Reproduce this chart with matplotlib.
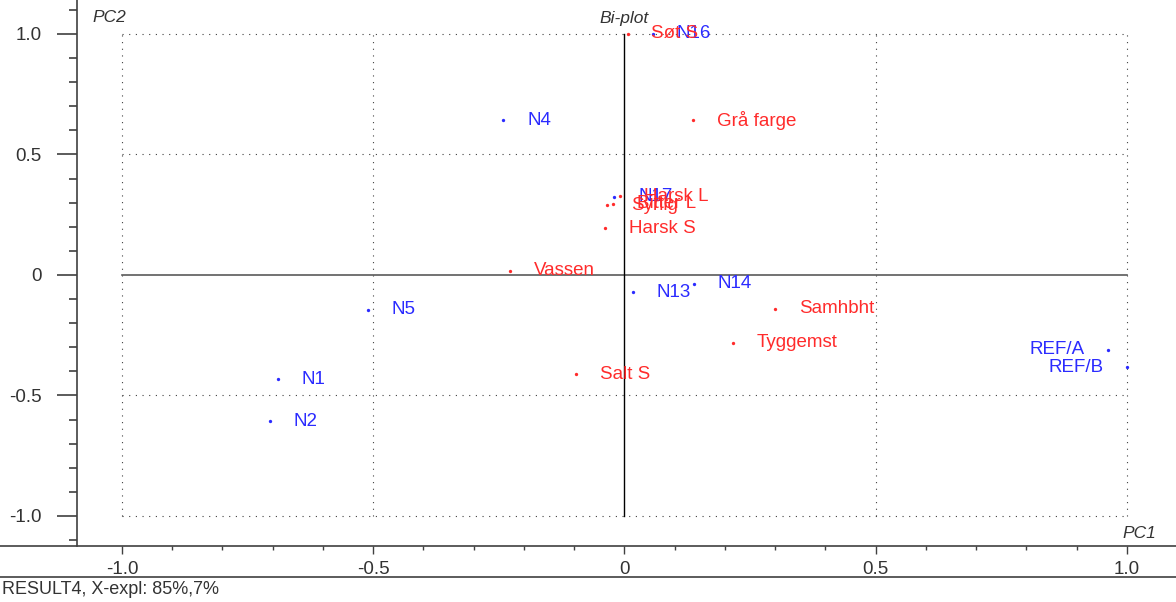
import matplotlib
matplotlib.use("Agg")
import matplotlib.pyplot as plt
from matplotlib.lines import Line2D
from matplotlib.ticker import MultipleLocator

plt.rcParams['font.family'] = ['Liberation Sans', 'DejaVu Sans']

# Sample scores (blue)
samples = ['N16', 'N4', 'N17', 'N13', 'N14', 'N5', 'N1', 'N2', 'REF/A', 'REF/B']
sample_pc1 = [0.056, -0.241, -0.020, 0.016, 0.139, -0.511, -0.689, -0.706, 0.963, 1.000]
sample_pc2 = [1.000, 0.643, 0.324, -0.071, -0.037, -0.145, -0.432, -0.606, -0.311, -0.382]

# Variable loadings (red)
variables = ['Søt S', 'Grå farge', 'Harsk L', 'Bitter L', 'Syrlig', 'Harsk S',
             'Vassen', 'Samhbht', 'Tyggemst', 'Salt S']
var_pc1 = [0.006, 0.137, -0.008, -0.023, -0.034, -0.038, -0.227, 0.300, 0.215, -0.096]
var_pc2 = [1.000, 0.643, 0.326, 0.295, 0.290, 0.195, 0.017, -0.141, -0.282, -0.411]

x_ticks = [-1.0, -0.5, 0, 0.5, 1.0]
y_ticks = [-1.0, -0.5, 0, 0.5, 1.0]
x_ticklabels = ['-1.0', '-0.5', '0', '0.5', '1.0']
y_ticklabels = ['-1.0', '-0.5', '0', '0.5', '1.0']

BLUE = '#2b2bff'
RED = '#ff2b2b'
AXC = '#404040'

W, H = 1176, 602
fig = plt.figure(figsize=(W / 100, H / 100), dpi=100)
ax = fig.add_axes([77 / W, 1 - 546 / H, 1 - 77 / W, 546 / H])

# pixel -> data mapping (x: -1 at 122px, 1 at 1127px; y: 1 at 34px, -1 at 516px)
ax.set_xlim((77 - 624.5) / 502.5, (1176 - 624.5) / 502.5)
ax.set_ylim((275 - 546) / 241, (275 - 0) / 241)

for s in ['top', 'right', 'bottom']:
    ax.spines[s].set_visible(False)
ax.spines['left'].set_color(AXC)
ax.spines['left'].set_linewidth(1.2)

ax.set_xticks(x_ticks)
ax.set_xticklabels(x_ticklabels)
ax.set_yticks(y_ticks)
ax.set_yticklabels(y_ticklabels)
ax.xaxis.set_minor_locator(MultipleLocator(0.1))
ax.yaxis.set_minor_locator(MultipleLocator(0.1))
ax.tick_params(axis='x', which='major', length=6, width=1, color=AXC, pad=5,
               labelsize=13.5, labelcolor='#333333')
ax.tick_params(axis='x', which='minor', length=3, width=1, color=AXC)
ax.tick_params(axis='y', which='major', length=14.5, width=1.2, color=AXC, pad=11,
               labelsize=13.5, labelcolor='#333333')
ax.tick_params(axis='y', which='minor', length=6, width=1.2, color=AXC)

# dotted grid box
dot = dict(color=AXC, lw=0.8, linestyle=(0, (1, 5)), zorder=1)
for v in [-1.0, -0.5, 0.5, 1.0]:
    ax.plot([v, v], [-1, 1], **dot)
    ax.plot([-1, 1], [v, v], **dot)
ax.plot([-1, 1], [0, 0], color='#5a5a5a', lw=1.2, zorder=1)
ax.plot([0, 0], [-1, 1], color='black', lw=1.0, zorder=1)

ax.plot(sample_pc1, sample_pc2, linestyle='none', marker='o', ms=2.4,
        color=BLUE, mec='none', zorder=3)
ax.plot(var_pc1, var_pc2, linestyle='none', marker='o', ms=2.4,
        color=RED, mec='none', zorder=3)

for name, x, y in zip(samples, sample_pc1, sample_pc2):
    if x > 0.9:
        ax.annotate(name, (x, y), xytext=(-17, 0), textcoords='offset points',
                    ha='right', va='center', color=BLUE, fontsize=13.5, zorder=4)
    else:
        ax.annotate(name, (x, y), xytext=(17, 0), textcoords='offset points',
                    ha='left', va='center', color=BLUE, fontsize=13.5, zorder=4)
for name, x, y in zip(variables, var_pc1, var_pc2):
    ax.annotate(name, (x, y), xytext=(17, 0), textcoords='offset points',
                ha='left', va='center', color=RED, fontsize=13.5, zorder=4)

ax.annotate('Bi-plot', (0, 1.0), xytext=(0, 6), textcoords='offset points',
            ha='center', va='bottom', fontsize=12.5, style='italic', color='#333333')
ax.annotate('PC2', (92 / W, 1 - 18 / H), xycoords='figure fraction',
            ha='left', va='center', fontsize=12.5, style='italic', color='#333333')
ax.annotate('PC1', (1156 / W, 1 - 534 / H), xycoords='figure fraction',
            ha='right', va='center', fontsize=12.5, style='italic', color='#333333')

# frame lines across the figure
fig.add_artist(Line2D([0, 1], [1 - 546 / H] * 2, color=AXC, lw=1.2))
fig.add_artist(Line2D([0, 1], [1 - 577 / H] * 2, color=AXC, lw=1.2))
fig.text(2 / W, 1 - 590 / H, 'RESULT4, X-expl: 85%,7%', ha='left', va='center',
         fontsize=13, color='#333333')

fig.savefig('out.png', dpi=100)
